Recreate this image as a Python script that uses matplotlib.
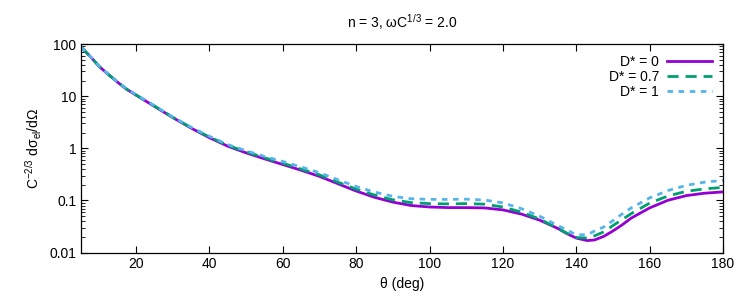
import matplotlib
matplotlib.use("Agg")
import matplotlib.pyplot as plt
from matplotlib.ticker import LogLocator, FixedLocator, NullFormatter

plt.rcParams['font.family'] = ['Liberation Sans', 'DejaVu Sans']
plt.rcParams['mathtext.fontset'] = 'custom'
plt.rcParams['mathtext.rm'] = 'Liberation Sans'
plt.rcParams['mathtext.it'] = 'Liberation Sans'

# scattering angle (deg)
theta = [5, 7.5, 10, 12.5, 15, 17.5, 20, 25, 30, 35, 40, 45, 50, 55, 60, 65, 70,
         75, 80, 85, 90, 95, 100, 105, 110, 115, 120, 125, 130, 135, 137.5, 140,
         143, 145, 147.5, 150, 152.5, 155, 160, 165, 170, 175, 180]

# D* = 0
sig_0 = [88, 58, 37, 26, 18.5, 13.5, 10.5, 6.4, 3.9, 2.45, 1.6, 1.1, 0.82, 0.63,
         0.49, 0.38, 0.29, 0.21, 0.152, 0.115, 0.093, 0.080, 0.075, 0.073, 0.073,
         0.072, 0.066, 0.055, 0.042, 0.029, 0.023, 0.019, 0.017, 0.0175, 0.0205,
         0.026, 0.034, 0.046, 0.072, 0.101, 0.124, 0.138, 0.146]

# D* = 0.7
sig_07 = [88, 58, 37, 26, 18.6, 13.6, 10.6, 6.5, 3.95, 2.5, 1.65, 1.14, 0.86, 0.66,
          0.52, 0.40, 0.31, 0.225, 0.165, 0.127, 0.103, 0.091, 0.087, 0.086, 0.087,
          0.085, 0.075, 0.060, 0.044, 0.029, 0.0235, 0.0195, 0.019, 0.021, 0.025,
          0.033, 0.043, 0.056, 0.089, 0.122, 0.150, 0.167, 0.178]

# D* = 1
sig_1 = [88, 58, 37.5, 26.3, 18.8, 13.8, 10.7, 6.6, 4.0, 2.55, 1.7, 1.18, 0.90, 0.70,
         0.56, 0.44, 0.34, 0.25, 0.185, 0.145, 0.120, 0.108, 0.105, 0.105, 0.106,
         0.102, 0.090, 0.070, 0.050, 0.033, 0.027, 0.022, 0.022, 0.026, 0.031,
         0.041, 0.055, 0.072, 0.112, 0.155, 0.195, 0.225, 0.243]

labels = ['D* = 0', 'D* = 0.7', 'D* = 1']

fig = plt.figure(figsize=(7.5, 3.0), dpi=100)
ax = fig.add_axes([0.108, 0.158, 0.856, 0.695])

ax.plot(theta, sig_0, color='#9400D3', lw=2.0, ls='-', label=labels[0])
ax.plot(theta, sig_07, color='#009E73', lw=2.0, ls=(0, (4, 2.5)), label=labels[1])
ax.plot(theta, sig_1, color='#56B4E9', lw=2.0, ls=(0, (2, 2)), label=labels[2])

ax.set_yscale('log')
ax.set_xlim(5, 180)
ax.set_ylim(0.01, 100)

ax.xaxis.set_major_locator(FixedLocator([20, 40, 60, 80, 100, 120, 140, 160, 180]))
ax.yaxis.set_major_locator(FixedLocator([0.01, 0.1, 1, 10, 100]))
ax.set_yticklabels(['0.01', '0.1', '1', '10', '100'])
ax.yaxis.set_minor_locator(LogLocator(base=10, subs=range(2, 10)))
ax.yaxis.set_minor_formatter(NullFormatter())

ax.tick_params(which='both', direction='in', top=True, right=True, labelsize=10)
ax.tick_params(which='major', length=5)
ax.tick_params(which='minor', length=3)
for s in ax.spines.values():
    s.set_linewidth(0.9)

ax.set_xlabel('θ (deg)', fontsize=10)
ax.set_ylabel('C$^{\\mathrm{-2/3}}$ dσ$_{\\mathrm{el}}$/dΩ', fontsize=10)
ax.set_title('n = 3, ωC$^{\\mathrm{1/3}}$ = 2.0', fontsize=10, pad=12)

ax.legend(loc='upper right', frameon=False, markerfirst=False, fontsize=10,
          handlelength=3.2, labelspacing=0.05, borderaxespad=0.4,
          handletextpad=0.6)

fig.savefig('out.png', dpi=100)
